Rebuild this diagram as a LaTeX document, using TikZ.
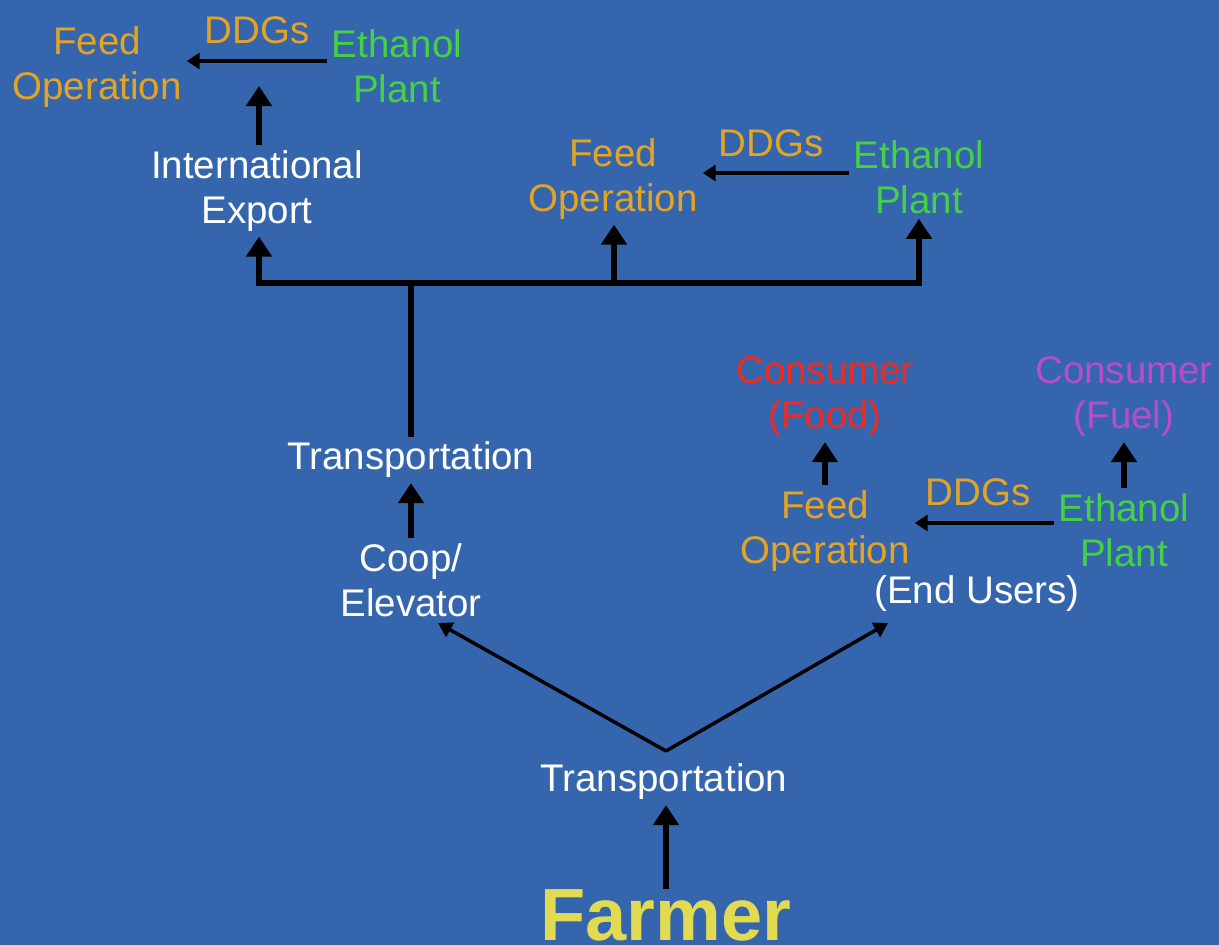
\documentclass[tikz,border=0pt]{standalone}
\usepackage{fontspec}
\setmainfont{Liberation Sans}
\usetikzlibrary{arrows.meta}
\definecolor{bg}{HTML}{3566AD}
\definecolor{feedc}{HTML}{E3A324}
\definecolor{ethc}{HTML}{45D045}
\definecolor{foodc}{HTML}{F02A1E}
\definecolor{fuelc}{HTML}{B84BD0}
\definecolor{farmc}{HTML}{E2DA50}
\begin{document}
\begin{tikzpicture}[x=1pt,y=-1pt,
  lbl/.style={align=center, inner sep=5pt, font=\fontsize{38.5}{45}\selectfont},
  wlbl/.style={lbl, text=white},
  feedlbl/.style={lbl, text=feedc},
  ethlbl/.style={lbl, text=ethc},
  bigarr/.style={line width=6pt, -{Triangle[width=25pt,length=20pt]}},
  midarr/.style={line width=4pt, -{Triangle[width=16pt,length=13pt]}},
  thinarr/.style={line width=3.5pt, -{Triangle[width=16pt,length=14pt]}},
  busline/.style={line width=6pt}
]
\fill[bg] (0,0) rectangle (1219,945);
\useasboundingbox (0,0) rectangle (1219,945);

% top-left cluster
\node[feedlbl] (feed1) at (97,67) {Feed\\Operation};
\node[feedlbl] (ddg1) at (257,30) {DDGs};
\node[ethlbl] (eth1) at (397,66) {Ethanol\\Plant};
\node[wlbl] (intl) at (257,191) {International\\Export};
\coordinate (j1) at (259,86);
\coordinate (h1) at (0,61);

% top-middle cluster
\node[feedlbl] (feed2) at (613,179) {Feed\\Operation};
\node[feedlbl] (ddg2) at (771,143) {DDGs};
\node[ethlbl] (eth2) at (919,177) {Ethanol\\Plant};
\coordinate (h2) at (0,173);

% bus
\coordinate (b1) at (259,283);
\coordinate (bm) at (411,283);
\coordinate (b2) at (614,283);
\coordinate (b3) at (919,283);

% left column
\node[wlbl] (trans1) at (411,460) {Transportation};
\node[wlbl] (coop) at (411,580) {Coop/\\Elevator};

% right cluster
\node[lbl, text=foodc] (food) at (825,397) {Consumer\\(Food)};
\node[lbl, text=fuelc] (fuel) at (1124,397) {Consumer\\(Fuel)};
\node[feedlbl] (feed3) at (825,531) {Feed\\Operation};
\node[feedlbl] (ddg3) at (978,492) {DDGs};
\node[ethlbl] (eth3) at (1124,530) {Ethanol\\Plant};
\node[wlbl] (end) at (977,594) {(End Users)};
\coordinate (h3) at (0,523);

% bottom
\node[wlbl] (trans2) at (664,782) {Transportation};
\node[inner sep=0pt, anchor=base, text=farmc, font=\fontsize{74}{80}\selectfont\bfseries] (farmer) at (666,940) {Farmer};
\coordinate (apex) at (666,751);
\coordinate (tipL) at (438,623);
\coordinate (tipR) at (888,623);

% connectors
\draw[midarr] (eth1.west |- h1) -- (feed1.east |- h1);
\draw[bigarr] (j1 |- intl.north) -- (j1);
\draw[midarr] (eth2.west |- h2) -- (feed2.east |- h2);
\draw[busline, line cap=rect] (b1) -- (b3);
\draw[bigarr] (b1) -- (b1 |- intl.south);
\draw[bigarr] (b2) -- (b2 |- feed2.south);
\draw[bigarr] (b3) -- (b3 |- eth2.south);
\draw[busline] (bm) -- (trans1.north);
\draw[bigarr] (coop.north) -- (trans1.south);
\draw[bigarr] (feed3.north) -- (food.south);
\draw[bigarr] (eth3.north) -- (fuel.south);
\draw[midarr] (eth3.west |- h3) -- (feed3.east |- h3);
\draw[thinarr] (apex) -- (tipL);
\draw[thinarr] (apex) -- (tipR);
\draw[bigarr] (farmer.north -| apex) -- (apex |- trans2.south);
\end{tikzpicture}
\end{document}
